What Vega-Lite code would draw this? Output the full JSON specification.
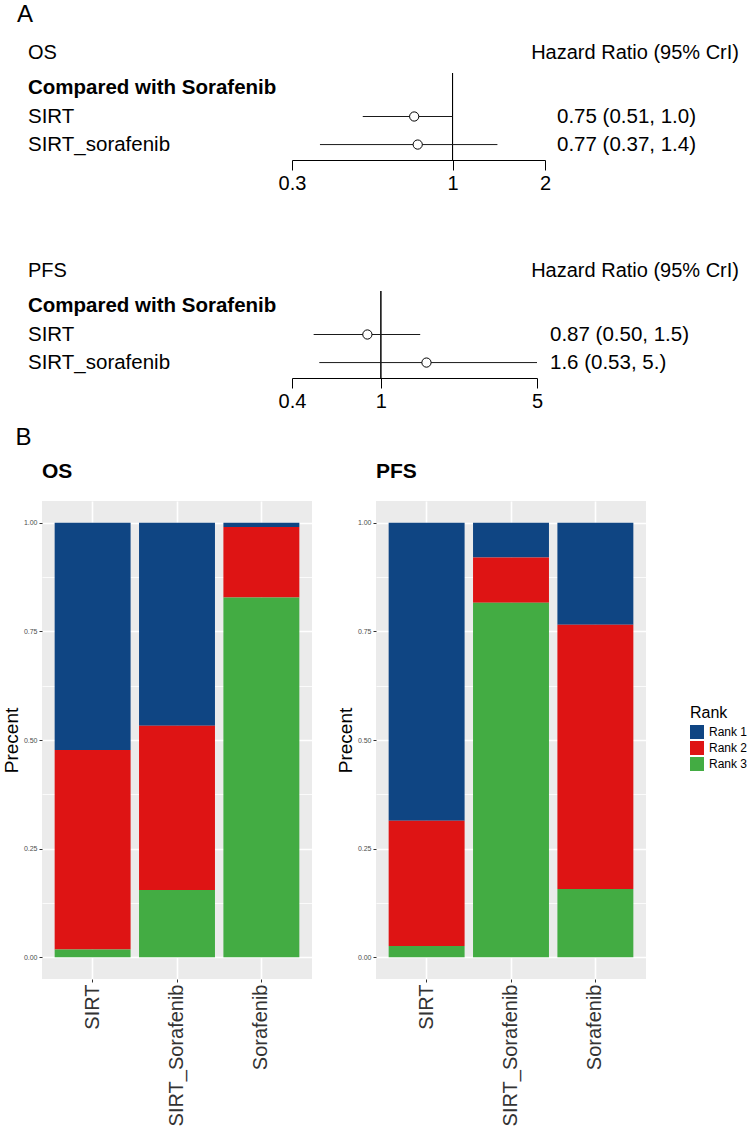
{
  "$schema": "https://vega.github.io/schema/vega-lite/v6.json",
  "padding": {"left": 2, "top": 3, "right": 2, "bottom": 0},
  "background": "white",
  "config": {
    "font": "Liberation Sans",
    "view": {"stroke": null},
    "title": {"color": "black", "fontWeight": "normal", "font": "Liberation Sans"},
    "axis": {"labelFont": "Liberation Sans", "titleFont": "Liberation Sans"},
    "legend": {"labelFont": "Liberation Sans", "titleFont": "Liberation Sans"}
  },
  "datasets": {
    "forest_os": [
      {"row": "SIRT", "est": 0.75, "lo": 0.51, "hi": 1.0, "hr": "0.75 (0.51, 1.0)"},
      {"row": "SIRT_sorafenib", "est": 0.77, "lo": 0.37, "hi": 1.4, "hr": "0.77 (0.37, 1.4)"}
    ],
    "forest_pfs": [
      {"row": "SIRT", "est": 0.87, "lo": 0.50, "hi": 1.5, "hr": "0.87 (0.50, 1.5)"},
      {"row": "SIRT_sorafenib", "est": 1.6, "lo": 0.53, "hi": 5.0, "hr": "1.6 (0.53,  5.)"}
    ],
    "heading": [
      {"row": "Compared with Sorafenib"}
    ],
    "ranks": [
      {"endpoint": "OS", "treatment": "SIRT", "rank": "Rank 1", "prob": 0.523},
      {"endpoint": "OS", "treatment": "SIRT", "rank": "Rank 2", "prob": 0.459},
      {"endpoint": "OS", "treatment": "SIRT", "rank": "Rank 3", "prob": 0.018},
      {"endpoint": "OS", "treatment": "SIRT_Sorafenib", "rank": "Rank 1", "prob": 0.467},
      {"endpoint": "OS", "treatment": "SIRT_Sorafenib", "rank": "Rank 2", "prob": 0.378},
      {"endpoint": "OS", "treatment": "SIRT_Sorafenib", "rank": "Rank 3", "prob": 0.155},
      {"endpoint": "OS", "treatment": "Sorafenib", "rank": "Rank 1", "prob": 0.010},
      {"endpoint": "OS", "treatment": "Sorafenib", "rank": "Rank 2", "prob": 0.162},
      {"endpoint": "OS", "treatment": "Sorafenib", "rank": "Rank 3", "prob": 0.828},
      {"endpoint": "PFS", "treatment": "SIRT", "rank": "Rank 1", "prob": 0.686},
      {"endpoint": "PFS", "treatment": "SIRT", "rank": "Rank 2", "prob": 0.288},
      {"endpoint": "PFS", "treatment": "SIRT", "rank": "Rank 3", "prob": 0.026},
      {"endpoint": "PFS", "treatment": "SIRT_Sorafenib", "rank": "Rank 1", "prob": 0.080},
      {"endpoint": "PFS", "treatment": "SIRT_Sorafenib", "rank": "Rank 2", "prob": 0.104},
      {"endpoint": "PFS", "treatment": "SIRT_Sorafenib", "rank": "Rank 3", "prob": 0.816},
      {"endpoint": "PFS", "treatment": "Sorafenib", "rank": "Rank 1", "prob": 0.235},
      {"endpoint": "PFS", "treatment": "Sorafenib", "rank": "Rank 2", "prob": 0.608},
      {"endpoint": "PFS", "treatment": "Sorafenib", "rank": "Rank 3", "prob": 0.157}
    ]
  },
  "spacing": 15,
  "vconcat": [
    {
      "title": {"text": "A", "anchor": "start", "frame": "bounds", "fontSize": 24, "fontWeight": "normal", "dx": -11, "offset": 16},
      "spacing": 68,
      "vconcat": [
        {
          "bounds": "flush",
          "spacing": 12,
          "hconcat": [
            {
              "width": 238,
              "height": 87,
              "title": {"text": "OS", "anchor": "start", "frame": "bounds", "fontSize": 20, "fontWeight": "normal", "offset": 10},
              "encoding": {
                "y": {"field": "row", "type": "nominal", "scale": {"type": "point", "domain": ["Compared with Sorafenib", "SIRT", "SIRT_sorafenib"], "padding": 0.55}, "axis": null},
                "x": {"datum": 0, "type": "quantitative", "scale": {"domain": [0, 1]}, "axis": null},
                "text": {"field": "row"}
              },
              "layer": [
                {"data": {"name": "heading"}, "mark": {"type": "text", "align": "left", "baseline": "middle", "fontSize": 20.5, "fontWeight": "bold", "color": "black", "dx": -14}},
                {"data": {"name": "forest_os"}, "mark": {"type": "text", "align": "left", "baseline": "middle", "fontSize": 20.5, "color": "black", "dx": -14}}
              ]
            },
            {
              "width": 253,
              "height": 87,
              "data": {"name": "forest_os"},
              "layer": [
                {
                  "mark": {"type": "rule", "color": "black", "strokeWidth": 1},
                  "encoding": {
                    "x": {
                      "datum": 1, "type": "quantitative",
                      "scale": {"type": "log", "domain": [0.3, 2], "nice": false},
                      "axis": {"values": [0.3, 1, 2], "format": "~g", "grid": false, "domainColor": "black", "domainWidth": 1, "tickColor": "black", "tickWidth": 1, "tickSize": 10, "labelFontSize": 20, "labelColor": "black", "labelPadding": 3, "labelFlush": false, "labelOverlap": false, "title": null}
                    }
                  }
                },
                {
                  "mark": {"type": "rule", "color": "#1a1a1a", "strokeWidth": 1},
                  "encoding": {
                    "x": {"field": "lo", "type": "quantitative"},
                    "x2": {"field": "hi"},
                    "y": {"field": "row", "type": "nominal", "scale": {"type": "point", "domain": ["Compared with Sorafenib", "SIRT", "SIRT_sorafenib"], "padding": 0.55}, "axis": null}
                  }
                },
                {
                  "mark": {"type": "point", "shape": "circle", "filled": true, "fill": "white", "stroke": "black", "strokeWidth": 1, "size": 85, "opacity": 1},
                  "encoding": {
                    "x": {"field": "est", "type": "quantitative"},
                    "y": {"field": "row", "type": "nominal"}
                  }
                }
              ]
            },
            {
              "width": 182,
              "height": 87,
              "title": {"text": "Hazard Ratio (95% CrI)", "anchor": "end", "frame": "group", "fontSize": 20, "fontWeight": "normal", "offset": 10},
              "data": {"name": "forest_os"},
              "mark": {"type": "text", "align": "left", "baseline": "middle", "fontSize": 20.5, "color": "black"},
              "encoding": {
                "y": {"field": "row", "type": "nominal", "scale": {"type": "point", "domain": ["Compared with Sorafenib", "SIRT", "SIRT_sorafenib"], "padding": 0.55}, "axis": null},
                "x": {"datum": 0, "type": "quantitative", "scale": {"domain": [0, 1]}, "axis": null},
                "text": {"field": "hr"}
              }
            }
          ]
        },
        {
          "bounds": "flush",
          "spacing": 13,
          "hconcat": [
            {
              "width": 237,
              "height": 87,
              "title": {"text": "PFS", "anchor": "start", "frame": "bounds", "fontSize": 20, "fontWeight": "normal", "offset": 10},
              "encoding": {
                "y": {"field": "row", "type": "nominal", "scale": {"type": "point", "domain": ["Compared with Sorafenib", "SIRT", "SIRT_sorafenib"], "padding": 0.55}, "axis": null},
                "x": {"datum": 0, "type": "quantitative", "scale": {"domain": [0, 1]}, "axis": null},
                "text": {"field": "row"}
              },
              "layer": [
                {"data": {"name": "heading"}, "mark": {"type": "text", "align": "left", "baseline": "middle", "fontSize": 20.5, "fontWeight": "bold", "color": "black", "dx": -14}},
                {"data": {"name": "forest_pfs"}, "mark": {"type": "text", "align": "left", "baseline": "middle", "fontSize": 20.5, "color": "black", "dx": -14}}
              ]
            },
            {
              "width": 245,
              "height": 87,
              "data": {"name": "forest_pfs"},
              "layer": [
                {
                  "mark": {"type": "rule", "color": "black", "strokeWidth": 1},
                  "encoding": {
                    "x": {
                      "datum": 1, "type": "quantitative",
                      "scale": {"type": "log", "domain": [0.4, 5], "nice": false},
                      "axis": {"values": [0.4, 1, 5], "format": "~g", "grid": false, "domainColor": "black", "domainWidth": 1, "tickColor": "black", "tickWidth": 1, "tickSize": 10, "labelFontSize": 20, "labelColor": "black", "labelPadding": 3, "labelFlush": false, "labelOverlap": false, "title": null}
                    }
                  }
                },
                {
                  "mark": {"type": "rule", "color": "#1a1a1a", "strokeWidth": 1},
                  "encoding": {
                    "x": {"field": "lo", "type": "quantitative"},
                    "x2": {"field": "hi"},
                    "y": {"field": "row", "type": "nominal", "scale": {"type": "point", "domain": ["Compared with Sorafenib", "SIRT", "SIRT_sorafenib"], "padding": 0.55}, "axis": null}
                  }
                },
                {
                  "mark": {"type": "point", "shape": "circle", "filled": true, "fill": "white", "stroke": "black", "strokeWidth": 1, "size": 85, "opacity": 1},
                  "encoding": {
                    "x": {"field": "est", "type": "quantitative"},
                    "y": {"field": "row", "type": "nominal"}
                  }
                }
              ]
            },
            {
              "width": 189,
              "height": 87,
              "title": {"text": "Hazard Ratio (95% CrI)", "anchor": "end", "frame": "group", "fontSize": 20, "fontWeight": "normal", "offset": 10},
              "data": {"name": "forest_pfs"},
              "mark": {"type": "text", "align": "left", "baseline": "middle", "fontSize": 20.5, "color": "black"},
              "encoding": {
                "y": {"field": "row", "type": "nominal", "scale": {"type": "point", "domain": ["Compared with Sorafenib", "SIRT", "SIRT_sorafenib"], "padding": 0.55}, "axis": null},
                "x": {"datum": 0, "type": "quantitative", "scale": {"domain": [0, 1]}, "axis": null},
                "text": {"field": "hr"}
              }
            }
          ]
        }
      ]
    },
    {
      "title": {"text": "B", "anchor": "start", "frame": "bounds", "fontSize": 24, "fontWeight": "normal", "dx": 13, "offset": 11},
      "bounds": "flush",
      "spacing": 64,
      "hconcat": [
        {
          "width": 270,
          "height": 478,
          "view": {"fill": "#EBEBEB", "stroke": null},
          "title": {"text": "OS", "anchor": "start", "frame": "group", "fontSize": 21, "fontWeight": "bold", "offset": 19},
          "data": {"name": "ranks"},
          "transform": [{"filter": "datum.endpoint === 'OS'"}],
          "mark": {"type": "bar"},
          "encoding": {
            "x": {"field": "treatment", "type": "nominal", "sort": ["SIRT", "SIRT_Sorafenib", "Sorafenib"], "scale": {"paddingInner": 0.1, "paddingOuter": 0.15},
              "axis": {"labelAngle": -90, "labelAlign": "right", "labelBaseline": "middle", "labelFontSize": 20, "labelColor": "#333333", "labelPadding": 2, "tickColor": "#333333", "tickSize": 3, "tickWidth": 1, "domain": false, "grid": true, "gridColor": "white", "gridWidth": 1.6, "bandPosition": 0.5, "title": null}},
            "y": {"field": "prob", "type": "quantitative", "stack": "zero", "scale": {"domain": [-0.05, 1.05], "nice": false, "zero": false},
              "axis": {"values": [0, 0.125, 0.25, 0.375, 0.5, 0.625, 0.75, 0.875, 1], "labelExpr": "(datum.value * 4) % 1 === 0 ? format(datum.value, '.2f') : ''", "labelFontSize": 7, "labelColor": "#4D4D4D", "labelPadding": 2, "tickColor": "#333333", "tickSize": 3, "tickOpacity": {"condition": {"test": "(datum.value * 4) % 1 === 0", "value": 1}, "value": 0}, "domain": false, "grid": true, "gridColor": "white", "gridWidth": {"condition": {"test": "(datum.value * 4) % 1 === 0", "value": 1.6}, "value": 0.8}, "title": "Precent", "titleFontSize": 19, "titleFontWeight": "normal", "titleColor": "black", "titlePadding": 2}},
            "color": {"field": "rank", "type": "nominal", "scale": {"domain": ["Rank 1", "Rank 2", "Rank 3"], "range": ["#0F4583", "#DE1414", "#43AC43"]},
              "legend": {"title": "Rank", "titleFontSize": 16, "titleFontWeight": "normal", "titleColor": "black", "labelFontSize": 12, "labelColor": "black", "symbolType": "square", "symbolSize": 196, "symbolStrokeWidth": 0, "rowPadding": 2, "labelOffset": 5, "titlePadding": 4, "orient": "none", "legendX": 648, "legendY": 632}},
            "order": {"field": "rank", "sort": "descending"}
          }
        },
        {
          "width": 270,
          "height": 478,
          "view": {"fill": "#EBEBEB", "stroke": null},
          "title": {"text": "PFS", "anchor": "start", "frame": "group", "fontSize": 21, "fontWeight": "bold", "offset": 19},
          "data": {"name": "ranks"},
          "transform": [{"filter": "datum.endpoint === 'PFS'"}],
          "mark": {"type": "bar"},
          "encoding": {
            "x": {"field": "treatment", "type": "nominal", "sort": ["SIRT", "SIRT_Sorafenib", "Sorafenib"], "scale": {"paddingInner": 0.1, "paddingOuter": 0.15},
              "axis": {"labelAngle": -90, "labelAlign": "right", "labelBaseline": "middle", "labelFontSize": 20, "labelColor": "#333333", "labelPadding": 2, "tickColor": "#333333", "tickSize": 3, "tickWidth": 1, "domain": false, "grid": true, "gridColor": "white", "gridWidth": 1.6, "bandPosition": 0.5, "title": null}},
            "y": {"field": "prob", "type": "quantitative", "stack": "zero", "scale": {"domain": [-0.05, 1.05], "nice": false, "zero": false},
              "axis": {"values": [0, 0.125, 0.25, 0.375, 0.5, 0.625, 0.75, 0.875, 1], "labelExpr": "(datum.value * 4) % 1 === 0 ? format(datum.value, '.2f') : ''", "labelFontSize": 7, "labelColor": "#4D4D4D", "labelPadding": 2, "tickColor": "#333333", "tickSize": 3, "tickOpacity": {"condition": {"test": "(datum.value * 4) % 1 === 0", "value": 1}, "value": 0}, "domain": false, "grid": true, "gridColor": "white", "gridWidth": {"condition": {"test": "(datum.value * 4) % 1 === 0", "value": 1.6}, "value": 0.8}, "title": "Precent", "titleFontSize": 19, "titleFontWeight": "normal", "titleColor": "black", "titlePadding": 2}},
            "color": {"field": "rank", "type": "nominal"},
            "order": {"field": "rank", "sort": "descending"}
          }
        }
      ]
    }
  ]
}
